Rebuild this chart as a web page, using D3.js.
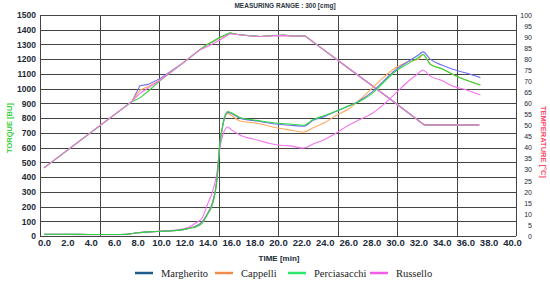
<!DOCTYPE html>
<html>
<head>
<meta charset="utf-8">
<style>
  body { margin: 0; background: #fff; }
  .grid line { stroke: #444; stroke-width: 1; shape-rendering: crispEdges; }
  .axis path, .axis line { display: none; }
  .ltick text { font-family: "Liberation Sans", Arial, sans-serif; font-weight: bold; font-size: 8.5px; fill: #1b2a38; }
  .rtick text { font-family: "Liberation Sans", Arial, sans-serif; font-size: 7px; fill: #1b2a38; }
  .xtick text { font-family: "Liberation Sans", Arial, sans-serif; font-weight: bold; font-size: 9.5px; fill: #1b2a38; }
  .curve { fill: none; stroke-width: 1.1; }
  .legend text { font-family: "Liberation Serif", "Times New Roman", serif; font-size: 10.5px; fill: #222; }
</style>
</head>
<body>
<svg id="chart" width="550" height="281"></svg>
<script src="https://cdn.jsdelivr.net/npm/d3@7"></script>
<script>
// samples
var samples = ["Margherito", "Cappelli", "Perciasacchi", "Russello"];
var lineColors = ["#6f6ff5", "#ffa85a", "#2fd83a", "#f572f0"];
var legendColors = ["#1e5b86", "#f28c4b", "#2ee86e", "#f35be9"];

// torque [BU] vs time [min]
var torqueTime = [0, 2, 4, 6, 7, 8, 9, 10, 11, 12, 12.5, 13, 13.5, 14, 14.4, 14.8, 15.0, 15.3, 15.7, 16.0, 16.75, 18.2, 20, 21, 22.2, 23, 24, 25, 26, 27, 28, 29, 30, 31, 32, 32.4, 33, 34, 35, 36, 37.3];
var torqueMargherito = [12, 12, 10, 10, 12, 22, 28, 32, 36, 45, 54, 68, 95, 155, 225, 400, 600, 760, 840, 832, 800, 780, 758, 752, 745, 785, 812, 847, 880, 920, 975, 1050, 1125, 1178, 1228, 1250, 1200, 1160, 1130, 1108, 1075];
var torqueCappelli = [12, 12, 10, 10, 12, 22, 28, 32, 36, 45, 54, 68, 95, 158, 228, 400, 600, 755, 832, 820, 781, 765, 733, 720, 706, 735, 770, 820, 860, 925, 1000, 1075, 1140, 1180, 1200, 1230, 1170, 1135, 1095, 1060, 1025];
var torquePerciasacchi = [12, 12, 10, 10, 12, 22, 28, 32, 36, 45, 54, 62, 85, 150, 215, 390, 600, 765, 845, 837, 805, 785, 765, 760, 752, 790, 818, 848, 882, 915, 965, 1040, 1115, 1165, 1212, 1232, 1165, 1135, 1095, 1060, 1025];
var torqueRussello = [10, 10, 8, 8, 10, 22, 28, 33, 38, 50, 65, 90, 120, 220, 300, 440, 580, 690, 740, 722, 685, 652, 618, 612, 597, 625, 655, 700, 750, 790, 830, 890, 965, 1040, 1105, 1127, 1085, 1055, 1015, 995, 957];

// temperature [°C] vs time [min]
var tempTime = [0, 6, 7.5, 8.2, 8.9, 9.9, 12, 13.3, 13.9, 15, 15.9, 16.5, 17.5, 18.5, 19.5, 20.5, 21.5, 22.3, 24, 26, 28, 30, 32.5, 35, 37.2];
var tempMargherito = [30.8, 54.8, 60.8, 68.0, 68.6, 71.2, 78.8, 84.2, 86.4, 89.6, 91.8, 91.2, 90.6, 90.3, 90.6, 90.8, 90.4, 90.6, 83.9, 76.0, 68.2, 60.3, 50.3, 50.3, 50.3];
var tempCappelli = [30.8, 54.8, 60.8, 66.0, 67.6, 70.6, 78.8, 84.2, 86.4, 89.6, 91.8, 91.2, 90.6, 90.3, 90.6, 90.8, 90.4, 90.6, 83.9, 76.0, 68.2, 60.3, 50.3, 50.3, 50.3];
var tempPerciasacchi = [30.8, 54.8, 60.8, 62.5, 65.5, 70.2, 78.8, 84.2, 86.4, 89.8, 91.9, 91.3, 90.7, 90.3, 90.7, 90.9, 90.5, 90.6, 83.9, 76.0, 68.2, 60.3, 50.3, 50.3, 50.3];
var tempRussello = [30.8, 54.8, 60.8, 64.5, 67.0, 70.5, 78.8, 84.2, 85.5, 88.6, 91.5, 91.2, 90.6, 90.3, 90.6, 90.8, 90.4, 90.6, 83.9, 76.0, 68.2, 60.3, 50.3, 50.3, 50.3];

var torqueTicks = d3.range(0, 1501, 100);
var tempTicks = d3.range(0, 101, 5);
var timeTicks = d3.range(0, 40.1, 2);

var torqueSeries = [torqueMargherito, torqueCappelli, torquePerciasacchi, torqueRussello];
var tempSeries = [tempMargherito, tempCappelli, tempPerciasacchi, tempRussello];

var plot = { left: 40, right: 516, top: 15, bottom: 236 };

var svg = d3.select("#chart");

var x = d3.scaleLinear().domain([0, 40]).range([44, 512]);
var yTorque = d3.scaleLinear().domain([0, 1500]).range([plot.bottom, plot.top]);
var yTemp = d3.scaleLinear().domain([0, 100]).range([plot.bottom, plot.top]);
var gx = d3.scaleLinear().domain([0, 8]).range([plot.left, plot.right]);

// grid
var grid = svg.append("g").attr("class", "grid");
grid.selectAll(".h").data(torqueTicks).enter().append("line")
  .attr("x1", plot.left).attr("x2", plot.right)
  .attr("y1", function(d) { return Math.round(yTorque(d)) + 0.5; })
  .attr("y2", function(d) { return Math.round(yTorque(d)) + 0.5; });
grid.selectAll(".v").data(d3.range(0, 9)).enter().append("line")
  .attr("y1", plot.top).attr("y2", plot.bottom)
  .attr("x1", function(d) { return Math.round(gx(d)) + 0.5; })
  .attr("x2", function(d) { return Math.round(gx(d)) + 0.5; });

// axes
svg.append("g").attr("class", "axis ltick")
  .attr("transform", "translate(" + (plot.left - 1) + ",0)")
  .call(d3.axisLeft(yTorque).tickValues(torqueTicks).tickFormat(d3.format("d")).tickSize(0).tickPadding(3));
svg.append("g").attr("class", "axis rtick")
  .attr("transform", "translate(532,0)")
  .call(d3.axisLeft(yTemp).tickValues(tempTicks).tickSize(0).tickPadding(0));
svg.append("g").attr("class", "axis xtick")
  .attr("transform", "translate(0," + (plot.bottom) + ")")
  .call(d3.axisBottom(x).tickValues(timeTicks).tickFormat(d3.format(".1f")).tickSize(0).tickPadding(3));

// titles
svg.append("text").attr("x", 285).attr("y", 8)
  .attr("text-anchor", "middle")
  .style("font-family", "'Liberation Sans', Arial, sans-serif").style("font-weight", "bold")
  .style("font-size", "6.5px").style("fill", "#2a3540")
  .text("MEASURING RANGE : 300 [cmg]");
svg.append("text").attr("x", 279).attr("y", 261)
  .attr("text-anchor", "middle")
  .style("font-family", "'Liberation Sans', Arial, sans-serif").style("font-weight", "bold")
  .style("font-size", "8px").style("fill", "#1b2a38")
  .text("TIME  [min]");
svg.append("text")
  .attr("transform", "translate(12,128) rotate(-90)")
  .attr("text-anchor", "middle")
  .style("font-family", "'Liberation Sans', Arial, sans-serif").style("font-weight", "bold")
  .style("font-size", "7.5px").style("fill", "#2fcf3a")
  .text("TORQUE  [BU]");
svg.append("text")
  .attr("transform", "translate(541,142) rotate(90)")
  .attr("text-anchor", "middle")
  .style("font-family", "'Liberation Sans', Arial, sans-serif").style("font-weight", "bold")
  .style("font-size", "7.5px").style("fill", "#ff4d6a")
  .text("TEMPERATURE  [°C]");

// curves
var tempLine = d3.line()
  .x(function(d) { return x(d[0]); })
  .y(function(d) { return yTemp(d[1]); });
var torqueLine = d3.line()
  .curve(d3.curveMonotoneX)
  .x(function(d) { return x(d[0]); })
  .y(function(d) { return yTorque(d[1]); });

var curves = svg.append("g");
[0, 1, 2, 3].forEach(function(i) {
  curves.append("path").attr("class", "curve")
    .attr("stroke", lineColors[i])
    .attr("d", tempLine(d3.zip(tempTime, tempSeries[i])));
});
[3, 1, 0, 2].forEach(function(i) {
  curves.append("path").attr("class", "curve")
    .attr("stroke", lineColors[i])
    .attr("d", torqueLine(d3.zip(torqueTime, torqueSeries[i])));
});

// legend
var legendX = [135, 215, 288, 370];
var legend = svg.append("g").attr("class", "legend");
var items = legend.selectAll("g").data(samples).enter().append("g")
  .attr("transform", function(d, i) { return "translate(" + legendX[i] + ",273)"; });
items.append("line").attr("x1", 0).attr("x2", 18).attr("y1", 0).attr("y2", 0)
  .attr("stroke-width", 2.5)
  .attr("stroke", function(d, i) { return legendColors[i]; });
items.append("text").attr("x", 26).attr("y", 3.5).text(function(d) { return d; });
</script>
</body>
</html>
